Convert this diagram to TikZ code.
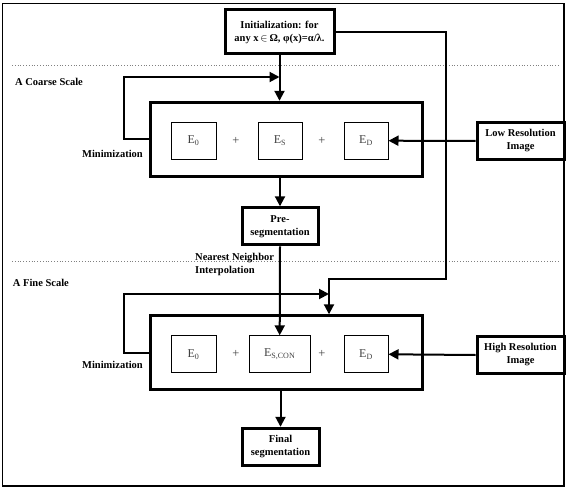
\documentclass[tikz,border=0pt]{standalone}
\usepackage{fontspec}
\setmainfont{Liberation Serif}
\usetikzlibrary{arrows.meta}

\tikzset{
    box/.style = {draw, line width=3pt, align=center, font=\bfseries, inner sep=0pt},
    ebox/.style = {draw, line width=1pt, minimum height=37pt, inner sep=0pt, text=black!75,
        font=\fontsize{12}{14}\selectfont},
    plus/.style = {text=black!75, font=\fontsize{12.5}{14}\selectfont},
    conn/.style = {line width=2pt, -{Triangle[length=10pt,width=10pt]}},
    lbl/.style = {font=\bfseries, align=left, inner sep=0pt},
    sep/.style = {gray, dotted, line width=0.8pt}
}

\begin{document}
\fontsize{10.5}{13}\selectfont
\begin{tikzpicture}[x=1pt, y=-1pt]
    \useasboundingbox (0,0) rectangle (567,489);
    \draw[line width=1.5pt] (2.5,3.5) rectangle (564,486);

    % scale separators
    \draw[sep] (12,65) -- (559,65);
    \draw[sep] (12,261) -- (559,261);

    \node[box, minimum width=109pt, minimum height=44pt] (init) at (279.5,32)
        {Initialization: for\\any x\,$\in$\,Ω, φ(x)=α/λ.};

    % coarse scale
    \node[box, minimum width=272pt, minimum height=74pt] (coarse) at (286,139.3) {};
    \node[ebox, minimum width=45pt] (e0a) at (193.5,140.7) {E\textsubscript{0}};
    \node[plus] (plus1) at (236,140.7) {+};
    \node[ebox, minimum width=44pt] (esa) at (280,140.7) {E\textsubscript{S}};
    \node[plus] (plus2) at (322,140.7) {+};
    \node[ebox, minimum width=44pt] (eda) at (366,140.7) {E\textsubscript{D}};
    \node[box, minimum width=87pt, minimum height=36.5pt] (lowres) at (520.5,141)
        {Low Resolution\\Image};
    \node[box, minimum width=76pt, minimum height=37pt] (preseg) at (280,226.3)
        {Pre-\\segmentation};

    % fine scale
    \node[box, minimum width=272pt, minimum height=74pt] (fine) at (286,352.8) {};
    \node[ebox, minimum width=45pt] (e0b) at (193.5,354.3) {E\textsubscript{0}};
    \node[plus] (plus3) at (236,354.3) {+};
    \node[ebox, minimum width=61pt] (escon) at (279.7,354.3) {E\textsubscript{S,CON}};
    \node[plus] (plus4) at (322,354.3) {+};
    \node[ebox, minimum width=44pt] (edb) at (366,354.3) {E\textsubscript{D}};
    \node[box, minimum width=87pt, minimum height=36.5pt] (highres) at (520.5,355)
        {High Resolution\\Image};
    \node[box, minimum width=77pt, minimum height=37.4pt] (final) at (280.5,447)
        {Final\\segmentation};

    \node[lbl, anchor=west] (coarselbl) at (15,81.7) {A Coarse Scale};
    \node[lbl, anchor=east] (min1) at (143,154) {Minimization};
    \node[lbl, anchor=west] (nnlbl) at (195,264.5) {Nearest Neighbor\\Interpolation};
    \node[lbl, anchor=west] (finelbl) at (12.7,282.7) {A Fine Scale};
    \node[lbl, anchor=east] (min2) at (143,365) {Minimization};

    \coordinate (join1) at (279.5,77);
    \coordinate (turn) at (446,279);
    \coordinate (join2) at (329,294);

    \draw[conn] (init.south) -- (init.south |- coarse.north);
    \draw[conn] (coarse.west) -- ++(-25,0) |- (join1);
    \draw[conn] (lowres.west) -- (eda.east);
    \draw[conn] (preseg.north |- coarse.south) -- (preseg.north);
    \draw[conn] (preseg.south) -- (escon.north);
    \draw[conn] (init.east) -| (turn) -| (join2 |- fine.north);
    \draw[conn] (fine.west) -- ++(-25,0) |- (join2);
    \draw[conn] (highres.west) -- (edb.east);
    \draw[conn] (final.north |- fine.south) -- (final.north);
\end{tikzpicture}
\end{document}
